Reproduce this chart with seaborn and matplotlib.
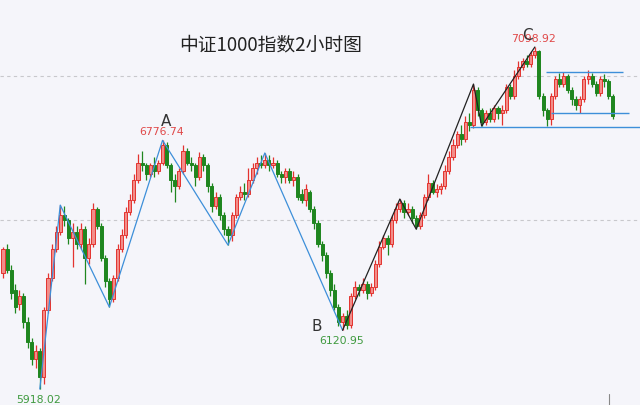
import matplotlib
matplotlib.use("Agg")

import numpy as np
import pandas as pd
import seaborn as sns
import matplotlib.pyplot as plt

# 2-hour candles of CSI 1000
opens = [6320, 6400, 6330, 6260, 6210, 6240, 6150, 6080, 6020, 6050,
         5960, 6190, 6300, 6400, 6460, 6520, 6500, 6440, 6460, 6420,
         6470, 6370, 6420, 6540, 6480, 6370, 6290, 6230, 6300, 6400,
         6450, 6530, 6570, 6640, 6700, 6690, 6660, 6690, 6670, 6700,
         6760, 6690, 6640, 6620, 6670, 6740, 6700, 6690, 6650, 6720,
         6690, 6620, 6550, 6580, 6520, 6470, 6450, 6520, 6580, 6600,
         6590, 6640, 6680, 6700, 6690, 6710, 6690, 6700, 6660, 6650,
         6670, 6640, 6650, 6590, 6570, 6600, 6540, 6490, 6420, 6380,
         6320, 6260, 6200, 6150, 6170, 6140, 6240, 6270, 6260, 6280,
         6250, 6270, 6350, 6410, 6440, 6420, 6500, 6540, 6560, 6530,
         6540, 6510, 6480, 6520, 6580, 6630, 6600, 6610, 6620, 6670,
         6720, 6760, 6800, 6780, 6840, 6830, 6950, 6880, 6840, 6870,
         6850, 6890, 6870, 6880, 6960, 6930, 7000, 7030, 7050, 7040,
         7070, 7085, 6930, 6880, 6850, 6930, 6990, 6970, 7000, 6950,
         6920, 6900, 6920, 6990, 7000, 6970, 6940, 6990, 6980, 6930]
highs = [6410, 6420, 6345, 6280, 6260, 6250, 6165, 6095, 6070, 6060,
         6200, 6320, 6420, 6480, 6553, 6550, 6510, 6490, 6480, 6490,
         6480, 6440, 6560, 6545, 6490, 6380, 6300, 6310, 6420, 6470,
         6545, 6590, 6660, 6730, 6740, 6700, 6700, 6720, 6710, 6776.74,
         6770, 6700, 6660, 6680, 6760, 6750, 6720, 6700, 6735, 6730,
         6700, 6630, 6600, 6590, 6530, 6480, 6530, 6590, 6620, 6630,
         6680, 6700, 6720, 6725, 6733, 6725, 6720, 6710, 6670, 6680,
         6680, 6670, 6660, 6610, 6625, 6605, 6550, 6500, 6430, 6390,
         6330, 6280, 6210, 6180, 6190, 6250, 6290, 6280, 6300, 6290,
         6285, 6365, 6430, 6450, 6450, 6520, 6560, 6574, 6570, 6560,
         6550, 6520, 6530, 6590, 6660, 6640, 6625, 6630, 6690, 6740,
         6780, 6810, 6830, 6860, 6870, 6971, 6960, 6890, 6880, 6890,
         6900, 6895, 6900, 6970, 6970, 7020, 7050, 7060, 7070, 7085,
         7098.92, 7090, 6940, 6890, 6940, 7000, 7010, 7013, 7005, 6960,
         6930, 6930, 7000, 7020, 7010, 6980, 7000, 7005, 6990, 6935]
lows = [6300, 6320, 6230, 6180, 6190, 6130, 6060, 6000, 5990, 5918.02,
        5935, 6180, 6290, 6390, 6450, 6480, 6420, 6340, 6400, 6400,
        6280, 6350, 6410, 6470, 6360, 6270, 6201, 6220, 6290, 6390,
        6440, 6520, 6560, 6630, 6670, 6640, 6650, 6650, 6660, 6690,
        6680, 6600, 6565, 6610, 6660, 6690, 6670, 6620, 6640, 6670,
        6600, 6530, 6540, 6500, 6450, 6415, 6430, 6510, 6570, 6570,
        6580, 6630, 6660, 6680, 6680, 6670, 6680, 6650, 6630, 6630,
        6630, 6620, 6570, 6560, 6550, 6530, 6470, 6410, 6360, 6300,
        6240, 6190, 6135, 6120.95, 6125, 6130, 6230, 6240, 6250, 6230,
        6240, 6260, 6340, 6400, 6380, 6410, 6490, 6530, 6510, 6520,
        6490, 6470, 6470, 6510, 6570, 6590, 6580, 6590, 6610, 6660,
        6710, 6750, 6760, 6770, 6810, 6820, 6860, 6826, 6830, 6840,
        6840, 6850, 6830, 6870, 6920, 6920, 6990, 7020, 7030, 7030,
        7060, 6920, 6860, 6826, 6830, 6920, 6960, 6960, 6940, 6900,
        6880, 6870, 6910, 6970, 6960, 6930, 6930, 6960, 6920, 6850]
closes = [6400, 6330, 6250, 6200, 6240, 6150, 6080, 6020, 6050, 5960,
          6190, 6300, 6400, 6460, 6520, 6500, 6440, 6460, 6420, 6470,
          6370, 6420, 6540, 6480, 6370, 6290, 6230, 6300, 6400, 6450,
          6530, 6570, 6640, 6700, 6690, 6660, 6690, 6670, 6700, 6760,
          6690, 6640, 6620, 6670, 6740, 6700, 6690, 6650, 6720, 6690,
          6620, 6550, 6580, 6520, 6470, 6450, 6520, 6580, 6600, 6590,
          6640, 6680, 6700, 6690, 6710, 6690, 6700, 6660, 6650, 6670,
          6640, 6650, 6580, 6570, 6610, 6540, 6490, 6420, 6380, 6320,
          6260, 6200, 6150, 6170, 6140, 6240, 6270, 6260, 6280, 6250,
          6270, 6350, 6410, 6440, 6420, 6500, 6540, 6560, 6530, 6540,
          6510, 6480, 6520, 6580, 6630, 6600, 6610, 6620, 6670, 6720,
          6760, 6800, 6780, 6840, 6830, 6950, 6880, 6840, 6870, 6850,
          6890, 6870, 6880, 6960, 6930, 7000, 7030, 7050, 7040, 7070,
          7085, 6930, 6880, 6850, 6930, 6990, 6970, 7000, 6950, 6920,
          6900, 6920, 6990, 7000, 6970, 6940, 6990, 6980, 6930, 6860]

# swing points (candle index) for the wave lines
blue_pivots = [9, 14, 26, 39, 55, 64, 83]
black_pivots = [83, 97, 101, 115, 117, 130]

# range lines on the right: price level, first and last candle
range_levels = [7013, 6871, 6823]
range_start = [132.8, 134.0, 114.2]
range_end = [151.6, 153.0, 160.0]

grid_levels = [6500, 7000]

labels = [("5918.02", 9, "low", "#3f9a3f"), ("6776.74", 39, "high", "#e04848"),
          ("6120.95", 83, "low", "#3f9a3f"), ("7098.92", 130, "high", "#e04848")]
letters = [("A", 39, "high"), ("B", 83, "low"), ("C", 130, "high")]

BG = "#f5f5fa"
RED = "#e3332f"
RED_FILL = "#f28d89"
GREEN = "#1f861f"
BLUE = "#3d8fd9"

df = pd.DataFrame({"open": opens, "high": highs, "low": lows, "close": closes})
df["idx"] = np.arange(len(df))
df["up"] = df["close"] >= df["open"]

sns.set_theme(style="white")
plt.rcParams["font.family"] = ["Noto Sans CJK SC", "DejaVu Sans"]

fig = plt.figure(figsize=(6.4, 4.06), dpi=100, facecolor=BG)
ax = fig.add_axes([0, 0, 1, 1], facecolor=BG)

for lvl in grid_levels:
    ax.axhline(lvl, color="#c8c8cc", lw=0.8, ls=(0, (3, 3)), zorder=0)

for up, edge, face in [(True, RED, RED_FILL), (False, GREEN, GREEN)]:
    d = df[df["up"] == up]
    ax.vlines(d["idx"], d["low"], d["high"], color=edge, lw=0.9, zorder=2)
    body = (d["close"] - d["open"]).abs().clip(lower=3)
    ax.bar(d["idx"], body, bottom=d[["open", "close"]].min(axis=1), width=0.75,
           color=face, edgecolor=edge, linewidth=0.7, zorder=3)

def pivot_frame(pivots, start_low):
    rows = []
    for k, i in enumerate(pivots):
        is_low = (k % 2 == 0) == start_low
        rows.append({"idx": i, "price": lows[i] if is_low else highs[i]})
    return pd.DataFrame(rows)

sns.lineplot(data=pivot_frame(blue_pivots, True), x="idx", y="price", ax=ax,
             color=BLUE, lw=0.9, sort=False, zorder=4)
sns.lineplot(data=pivot_frame(black_pivots, True), x="idx", y="price", ax=ax,
             color="#222222", lw=0.9, sort=False, zorder=4)

for lvl, a, b in zip(range_levels, range_start, range_end):
    ax.hlines(lvl, a, b, color=BLUE, lw=1.0, zorder=4)

for txt, i, kind, col in labels:
    y = lows[i] if kind == "low" else highs[i]
    dy = -10 if kind == "low" else 9
    ax.annotate(txt, (i, y), xytext=(-1, dy), textcoords="offset pixels",
                ha="center", va="center", fontsize=7.8, color=col,
                family="DejaVu Sans", zorder=6)

letter_offsets = {"A": (4, 20), "B": (-26, 5), "C": (-7, 13)}
for txt, i, kind in letters:
    y = lows[i] if kind == "low" else highs[i]
    ax.annotate(txt, (i, y), xytext=letter_offsets[txt], textcoords="offset pixels",
                ha="center", va="center", fontsize=11, color="#333333",
                family="DejaVu Sans", zorder=6)

fig.text(271 / 640, 1 - 45 / 406, "中证1000指数2小时图", ha="center", va="center",
         fontsize=13.5, color="#222222")

ax.axvline(148.2, ymin=0, ymax=0.027, color="#888888", lw=0.8)

ax.set_xlim(-0.73, 155.7)
ax.set_ylim(5862.8, 7264.7)
ax.set_xlabel("")
ax.set_ylabel("")
ax.set_xticks([])
ax.set_yticks([])
for s in ax.spines.values():
    s.set_visible(False)

fig.savefig("out.png", dpi=100, facecolor=BG)
